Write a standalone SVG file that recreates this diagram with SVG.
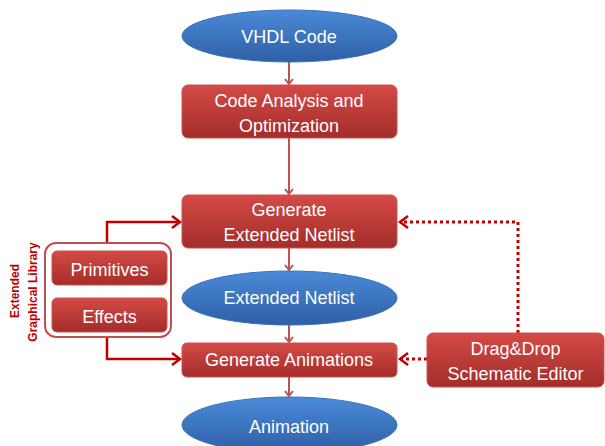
<svg xmlns="http://www.w3.org/2000/svg" width="605" height="446" viewBox="0 0 605 446">
<defs>
<linearGradient id="gr" x1="0" y1="0" x2="0" y2="1">
<stop offset="0" stop-color="#d44a46"/>
<stop offset="1" stop-color="#a32d2a"/>
</linearGradient>
<linearGradient id="gb" x1="0" y1="0" x2="0" y2="1">
<stop offset="0" stop-color="#4a8ad8"/>
<stop offset="1" stop-color="#2e5fa6"/>
</linearGradient>
<marker id="ah" markerWidth="8" markerHeight="10" refX="6" refY="5" orient="auto" markerUnits="userSpaceOnUse">
<path d="M1,1 L6,5 L1,9" fill="none" stroke="#c0504d" stroke-width="2"/>
</marker>
<marker id="ahd" markerWidth="12" markerHeight="14" refX="9" refY="7" orient="auto" markerUnits="userSpaceOnUse">
<path d="M1,1 L9,7 L1,13" fill="none" stroke="#c00000" stroke-width="2.5"/>
</marker>
</defs>
<style>
.box{fill:url(#gr);stroke:#c9524e;stroke-width:1}
.ell{fill:url(#gb);stroke:#3a70b8;stroke-width:1}
.t{font-family:"Liberation Sans",Arial,sans-serif;font-size:18px;fill:#ffffff;text-anchor:middle}
.v{stroke:#c0504d;stroke-width:2;fill:none}
.c{stroke:#c00000;stroke-width:2.5;fill:none}
.d{stroke:#c00000;stroke-width:3;fill:none;stroke-dasharray:3 3}
.lab{font-family:"Liberation Sans",Arial,sans-serif;font-size:12px;font-weight:bold;fill:#c00000;text-anchor:middle}
</style>
<g id="connectors">
<line class="v" x1="289" y1="62" x2="289" y2="84" marker-end="url(#ah)"/>
<line class="v" x1="289" y1="138" x2="289" y2="194" marker-end="url(#ah)"/>
<line class="v" x1="289" y1="248" x2="289" y2="270" marker-end="url(#ah)"/>
<line class="v" x1="289" y1="325" x2="289" y2="342" marker-end="url(#ah)"/>
<line class="v" x1="289" y1="377" x2="289" y2="396" marker-end="url(#ah)"/>
<polyline class="c" points="107,243 107,222 180,222" marker-end="url(#ahd)"/>
<polyline class="c" points="107,337 107,359 180,359" marker-end="url(#ahd)"/>
<polyline class="d" points="518,333 518,222 400,222" marker-end="url(#ahd)"/>
<line class="d" x1="427" y1="359" x2="400" y2="359" marker-end="url(#ahd)"/>
</g>
<g id="vhdl">
<ellipse class="ell" cx="289.5" cy="36" rx="107.5" ry="26"/>
<text class="t" x="289" y="43">VHDL Code</text>
</g>
<g id="analysis">
<rect class="box" x="182" y="85" width="215" height="53" rx="6"/>
<text class="t" x="289" y="107">Code Analysis and</text>
<text class="t" x="289" y="132">Optimization</text>
</g>
<g id="gen-netlist">
<rect class="box" x="182" y="195" width="215" height="53" rx="6"/>
<text class="t" x="289" y="216">Generate</text>
<text class="t" x="289" y="241">Extended Netlist</text>
</g>
<g id="netlist">
<ellipse class="ell" cx="289.5" cy="298" rx="107.5" ry="27"/>
<text class="t" x="289" y="304">Extended Netlist</text>
</g>
<g id="gen-anim">
<rect class="box" x="182" y="343" width="215" height="34" rx="5"/>
<text class="t" x="289" y="366">Generate Animations</text>
</g>
<g id="animation">
<ellipse class="ell" cx="289.5" cy="425" rx="107.5" ry="28"/>
<text class="t" x="289" y="433">Animation</text>
</g>
<g id="library">
<rect x="45" y="243" width="126" height="94" rx="11" fill="#ffffff" stroke="#c0504d" stroke-width="2"/>
<text class="lab" transform="translate(19,291) rotate(-90)">Extended</text>
<text class="lab" transform="translate(37,292) rotate(-90)">Graphical Library</text>
</g>
<g id="primitives">
<rect class="box" x="52" y="251" width="115" height="34" rx="5"/>
<text class="t" x="109.5" y="276">Primitives</text>
</g>
<g id="effects">
<rect class="box" x="52" y="298" width="115" height="34" rx="5"/>
<text class="t" x="109.5" y="323">Effects</text>
</g>
<g id="editor">
<rect class="box" x="427" y="333" width="177" height="54" rx="6"/>
<text class="t" x="515.5" y="355">Drag&amp;Drop</text>
<text class="t" x="515.5" y="380">Schematic Editor</text>
</g>
</svg>
